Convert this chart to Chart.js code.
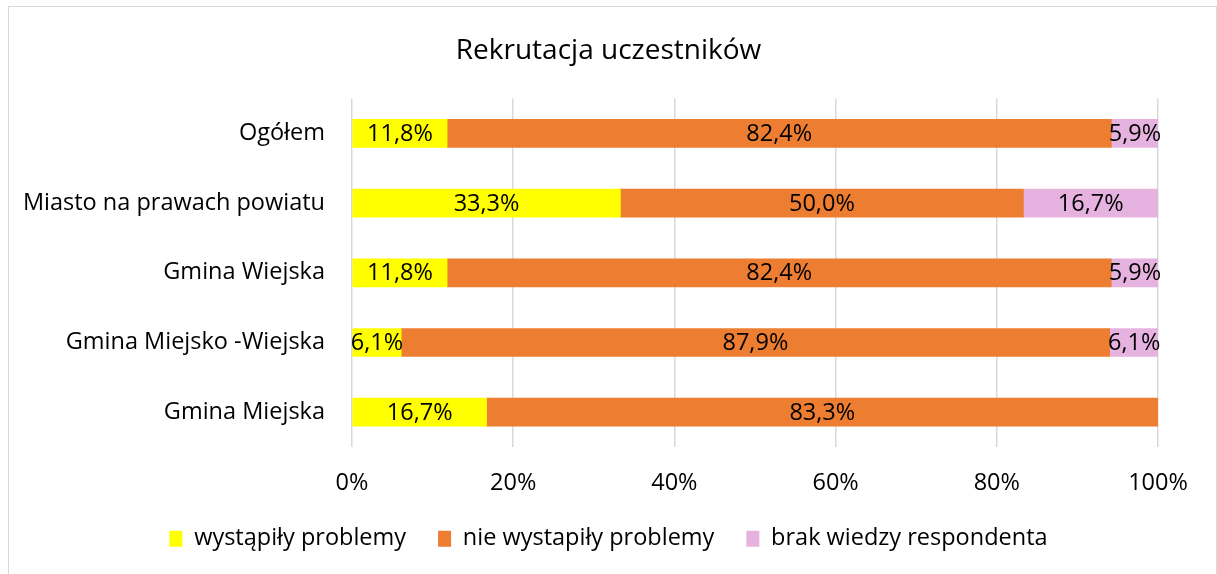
<!DOCTYPE html>
<html>
<head>
<meta charset="utf-8">
<script src="https://cdn.jsdelivr.net/npm/chart.js@4/dist/chart.umd.min.js"></script>
<style>
  body { margin: 0; background: #fff; }
  #wrap { position: relative; width: 1217px; height: 574px; }
  #frame { position: absolute; left: 8px; top: 6px; width: 1207px; height: 580px; border: 1px solid #d9d9d9; }
  canvas { position: absolute; left: 0; top: 0; }
</style>
</head>
<body>
<div id="wrap">
  <div id="frame"></div>
  <canvas id="chart" width="1217" height="574"></canvas>
</div>
<script>
const categories = [
  "Ogółem",
  "Miasto na prawach powiatu",
  "Gmina Wiejska",
  "Gmina Miejsko -Wiejska",
  "Gmina Miejska",
];
const problemy = [11.8, 33.3, 11.8, 6.1, 16.7];
const brakProblemow = [82.4, 50.0, 82.4, 87.9, 83.3];
const brakWiedzy = [5.9, 16.7, 5.9, 6.1, 0];
const xTicks = [0, 20, 40, 60, 80, 100];

const fontFamily = "'Open Sans', 'Noto Sans', sans-serif";
const fontSize = 23.5;

// napisy z wartościami na środku każdego odcinka
const barLabels = {
  id: "barLabels",
  afterDatasetsDraw(chart) {
    const ctx = chart.ctx;
    ctx.save();
    ctx.font = fontSize + "px " + fontFamily;
    ctx.fillStyle = "#000";
    ctx.textAlign = "center";
    ctx.textBaseline = "middle";
    chart.data.datasets.forEach((ds, i) => {
      const meta = chart.getDatasetMeta(i);
      meta.data.forEach((bar, j) => {
        const v = ds.data[j];
        if (!v) return;
        const x = (bar.x + bar.base) / 2;
        ctx.fillText(v.toFixed(1).replace(".", ",") + "%", x, bar.y + 1);
      });
    });
    ctx.restore();
  },
};

const ctx = document.getElementById("chart").getContext("2d");
const chart = new Chart(ctx, {
  type: "bar",
  data: {
    labels: categories,
    datasets: [
      {
        label: "wystąpiły problemy",
        data: problemy,
        backgroundColor: "#ffff00",
      },
      {
        label: "nie wystapiły problemy",
        data: brakProblemow,
        backgroundColor: "#ed7d31",
      },
      {
        label: "brak wiedzy respondenta",
        data: brakWiedzy,
        backgroundColor: "#e6b2e0",
      },
    ],
  },
  options: {
    indexAxis: "y",
    responsive: false,
    animation: false,
    layout: {
      padding: { left: 0, right: 0, top: 0, bottom: 13.5 },
    },
    datasets: {
      bar: { barThickness: 28 },
    },
    plugins: {
      title: {
        display: true,
        text: "Rekrutacja uczestników",
        color: "#000",
        font: { family: fontFamily, size: 28, weight: "normal" },
        padding: { top: 34, bottom: 31 },
      },
      legend: {
        position: "bottom",
        labels: {
          color: "#000",
          font: { family: fontFamily, size: fontSize },
          boxWidth: 13,
          boxHeight: 16,
          padding: 32,
        },
      },
      tooltip: { enabled: false },
    },
    scales: {
      x: {
        stacked: true,
        min: 0,
        max: 100,
        afterBuildTicks(scale) {
          scale.ticks = xTicks.map((v) => ({ value: v }));
        },
        afterFit(scale) {
          scale.height = 48;
        },
        ticks: {
          color: "#000",
          font: { family: fontFamily, size: fontSize },
          padding: 22,
          callback: (v) => v + "%",
        },
        grid: { color: "#d9d9d9", lineWidth: 1.5, drawTicks: false },
        border: { display: false },
      },
      y: {
        stacked: true,
        afterFit(scale) {
          scale.width = 352;
        },
        ticks: {
          color: "#000",
          font: { family: fontFamily, size: fontSize },
          padding: 27,
        },
        grid: { display: false, drawTicks: false },
        border: { display: false },
      },
      // pusty margines po prawej, żeby tytuł był na środku
      yRight: {
        type: "category",
        position: "right",
        labels: categories,
        afterFit(scale) {
          scale.width = 59;
        },
        ticks: { display: false },
        grid: { display: false, drawTicks: false },
        border: { display: false },
      },
    },
  },
  plugins: [barLabels],
});
</script>
</body>
</html>
